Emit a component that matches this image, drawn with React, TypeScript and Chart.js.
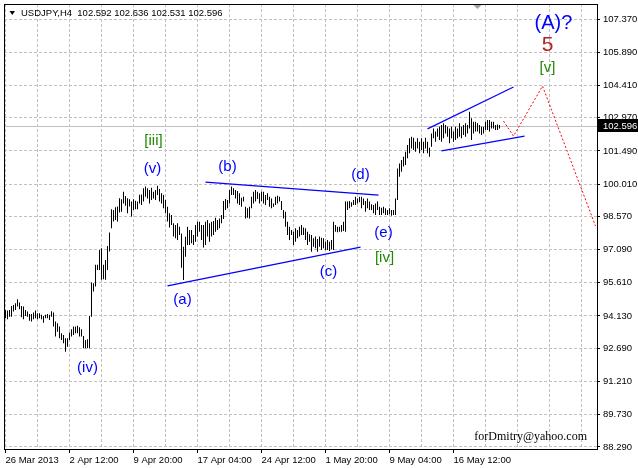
import React, { useEffect, useRef } from 'react';
import { Chart, registerables } from 'chart.js';

Chart.register(...registerables);

const chartTitle = 'USDJPY,H4  102.592 102.636 102.531 102.596';
const lastPrice = 102.596;
const watermark = 'forDmitry@yahoo.com';

// H4 bars: low / high per bar (bar index = position in array)
const barLow = [
  94.03, 93.98, 94.10, 94.10, 94.33, 94.40, 94.55, 94.43, 94.07, 93.98,
  94.13, 94.10, 93.92, 93.88, 93.98, 94.03, 93.98, 94.03, 93.98, 93.83,
  94.03, 94.03, 93.95, 94.10, 93.66, 93.21, 93.43, 93.14, 93.06, 92.91,
  92.54, 92.76, 93.06, 93.21, 93.28, 93.36, 93.36, 93.21, 93.21, 92.69,
  92.69, 92.69, 92.69, 94.10, 95.22, 95.44, 96.18, 96.18, 95.74, 95.77,
  95.74, 96.18, 97.00, 98.04, 98.34, 98.41, 98.34, 98.74, 98.78, 99.15,
  99.04, 98.71, 99.01, 98.56, 98.86, 98.89, 98.89, 99.15,
  99.08, 99.23, 99.45, 99.37, 99.15, 99.30, 99.37, 99.30, 99.52, 99.23,
  99.15, 98.93, 98.71, 98.34, 98.07, 98.19, 97.67, 97.59, 97.52, 97.74,
  96.28, 95.73, 96.77, 97.29, 97.29, 97.37, 97.29, 97.44, 97.67, 97.89,
  97.52, 97.18, 97.29, 97.67, 97.44, 97.67, 97.74, 97.89, 97.96, 98.04,
  98.26, 98.45, 98.85, 98.93, 99.15, 99.52, 99.52, 99.37, 99.15, 99.08,
  99.00, 99.23, 98.48, 98.51, 98.48, 98.93, 99.15, 99.23, 99.34, 99.15,
  99.26, 99.15, 99.08, 99.30, 99.00, 98.93, 99.00,
  99.08, 99.15, 99.23, 98.85, 98.48, 98.11, 97.74, 97.52, 97.74, 97.29,
  97.44, 97.59, 97.67, 97.74, 97.74, 97.52, 97.29, 97.44, 96.99, 97.22,
  97.15, 96.99, 97.22, 97.07, 97.15, 97.07, 97.07, 97.03, 97.11, 97.07,
  97.89, 97.86, 97.89, 97.89, 97.92, 97.89, 98.85, 98.93, 99.00, 99.08,
  99.08, 99.15, 99.20, 98.93, 99.08, 98.78, 98.93, 98.85, 98.85, 98.71,
  98.63, 98.85, 98.63, 98.63, 98.71, 98.63, 98.63, 98.66, 98.60, 98.63,
  98.63, 99.30, 100.34, 100.56, 100.79, 100.86, 101.16, 101.38,
  101.60, 101.53, 101.45, 101.60, 101.38, 101.53, 101.38, 101.60, 101.38, 101.23,
  101.68, 102.05, 101.90, 102.12, 101.97, 101.90, 102.05, 102.27, 102.12, 101.83,
  102.05, 101.90, 101.97, 102.05, 102.12, 102.05, 102.20, 102.12, 102.27, 102.49,
  101.97, 102.27, 102.35, 102.35, 102.27, 102.20, 102.27, 102.42, 102.42, 102.35,
  102.49, 102.49, 102.42, 102.42, 102.49,
];

const barHigh = [
  94.40, 94.37, 94.40, 94.58, 94.62, 94.70, 94.87, 94.73, 94.58, 94.55,
  94.40, 94.33, 94.22, 94.22, 94.28, 94.37, 94.25, 94.25, 94.18, 94.13,
  94.18, 94.22, 94.18, 94.34, 94.28, 93.88, 93.80, 93.66, 93.36, 93.28,
  93.14, 93.14, 93.39, 93.54, 93.66, 93.66, 93.69, 93.63, 93.54, 93.24,
  93.06, 93.09, 94.13, 95.62, 95.59, 96.41, 96.41, 97.07, 97.15, 96.41,
  96.63, 97.25, 97.85, 98.89, 98.86, 98.98, 99.01, 99.38, 99.33, 99.67,
  99.48, 99.38, 99.33, 99.23, 99.33, 99.27, 99.23, 99.53,
  99.55, 99.82, 99.90, 99.82, 99.75, 99.85, 99.67, 99.75, 99.94, 99.79,
  99.60, 99.52, 99.30, 99.00, 98.71, 98.63, 98.26, 98.19, 98.26, 98.11,
  97.81, 97.22, 97.66, 98.11, 97.96, 97.96, 97.74, 98.19, 98.33, 98.33,
  98.19, 98.19, 98.33, 98.41, 98.26, 98.33, 98.36, 98.51, 98.41, 98.48,
  98.63, 99.26, 99.35, 99.30, 99.75, 99.90, 99.82, 99.75, 99.70, 99.60,
  99.40, 99.45, 99.00, 98.93, 99.00, 99.45, 99.67, 99.75, 99.67, 99.60,
  99.67, 99.67, 99.52, 99.60, 99.45, 99.37, 99.15,
  99.45, 99.49, 99.45, 99.26, 98.85, 98.78, 98.33, 98.11, 97.96, 97.89,
  98.04, 97.96, 98.11, 98.19, 98.07, 98.04, 97.89, 97.77, 97.74, 97.59,
  97.67, 97.56, 97.67, 97.62, 97.59, 97.44, 97.52, 97.44, 97.52, 98.33,
  98.19, 98.11, 98.11, 98.19, 98.33, 99.23, 99.23, 99.26, 99.20, 99.30,
  99.45, 99.37, 99.45, 99.45, 99.37, 99.26, 99.37, 99.23, 99.11, 99.08,
  99.15, 99.23, 99.00, 98.96, 99.00, 98.93, 98.85, 98.93, 98.85, 98.85,
  99.37, 100.71, 100.93, 101.08, 101.23, 101.45, 101.75, 102.05,
  102.12, 102.08, 101.90, 102.05, 101.90, 102.05, 101.90, 102.08, 101.90, 101.63,
  102.27, 102.49, 102.35, 102.49, 102.57, 102.64, 102.72, 102.64, 102.57, 102.49,
  102.57, 102.35, 102.57, 102.49, 102.72, 102.57, 102.64, 102.72, 102.64, 103.24,
  102.94, 102.79, 102.79, 102.72, 102.64, 102.57, 102.57, 102.79, 102.87, 102.87,
  102.79, 102.79, 102.64, 102.67, 102.64,
];

const xTickLabels = [
  '26 Mar 2013', '2 Apr 12:00', '9 Apr 20:00', '17 Apr 04:00',
  '24 Apr 12:00', '1 May 20:00', '9 May 04:00', '16 May 12:00',
];
const barsPerLabel = 32;
const barsPerGrid = 16;

const yTickValues = [
  107.37, 105.89, 104.41, 102.97, 101.49, 100.01, 98.57,
  97.09, 95.61, 94.13, 92.69, 91.21, 89.73, 88.29,
];

// Trend lines (bar index, price)
const lineBD = [{ x: 100, y: 100.10 }, { x: 186.5, y: 99.52 }];
const lineAC = [{ x: 81, y: 95.47 }, { x: 177.5, y: 97.20 }];
const wedgeTop = [{ x: 211, y: 102.47 }, { x: 254, y: 104.34 }];
const wedgeBottom = [{ x: 218, y: 101.49 }, { x: 259.5, y: 102.15 }];
const projection = [
  { x: 249, y: 102.82 }, { x: 254, y: 102.15 },
  { x: 268.5, y: 104.38 }, { x: 295, y: 98.14 },
];

const BLUE = '#0000ff';
const GREEN = '#1f8a00';
const BROWN = '#b22222';

const waveLabels = [
  { text: '[iii]', x: 74, y: 101.93, color: GREEN, size: 15 },
  { text: '(v)', x: 73.5, y: 100.68, color: BLUE, size: 15 },
  { text: '(b)', x: 111, y: 100.77, color: BLUE, size: 15 },
  { text: '(d)', x: 177.5, y: 100.42, color: BLUE, size: 15 },
  { text: '(e)', x: 189, y: 97.83, color: BLUE, size: 15 },
  { text: '[iv]', x: 189.5, y: 96.71, color: GREEN, size: 15 },
  { text: '(c)', x: 161.5, y: 96.09, color: BLUE, size: 15 },
  { text: '(a)', x: 88.5, y: 94.84, color: BLUE, size: 15 },
  { text: '(iv)', x: 41, y: 91.81, color: BLUE, size: 15 },
  { text: '(A)?', x: 274, y: 107.19, color: BLUE, size: 20 },
  { text: '5', x: 271, y: 106.21, color: BROWN, size: 21 },
  { text: '[v]', x: 271, y: 105.19, color: GREEN, size: 15 },
];

const shiftMarkerBar = 236;

const FONT = 'Liberation Sans';

const overlayPlugin = {
  id: 'overlay',
  beforeDatasetsDraw(chart: any) {
    const { ctx, chartArea: a, scales } = chart;
    const py = Math.round(scales.y.getPixelForValue(lastPrice)) + 0.5;
    ctx.save();
    ctx.strokeStyle = '#c0c0c0';
    ctx.lineWidth = 1;
    ctx.beginPath();
    ctx.moveTo(a.left, py);
    ctx.lineTo(a.right, py);
    ctx.stroke();
    ctx.restore();
  },
  afterDatasetsDraw(chart: any) {
    const { ctx, scales } = chart;
    ctx.save();
    ctx.textAlign = 'center';
    ctx.textBaseline = 'middle';
    for (const l of waveLabels) {
      ctx.font = `${l.size}px "${FONT}"`;
      ctx.fillStyle = l.color;
      ctx.fillText(l.text, scales.x.getPixelForValue(l.x), scales.y.getPixelForValue(l.y));
    }
    ctx.restore();
  },
  afterDraw(chart: any) {
    const { ctx, chartArea: a, scales, width } = chart;
    ctx.save();
    // frame
    ctx.strokeStyle = '#000';
    ctx.lineWidth = 1;
    ctx.strokeRect(a.left + 0.5, a.top + 0.5, a.right - a.left, a.bottom - a.top);
    // title
    ctx.fillStyle = '#000';
    ctx.beginPath();
    ctx.moveTo(a.left + 5.5, a.top + 7);
    ctx.lineTo(a.left + 11, a.top + 7);
    ctx.lineTo(a.left + 8.25, a.top + 11);
    ctx.closePath();
    ctx.fill();
    ctx.font = `9.5px "${FONT}"`;
    ctx.textAlign = 'left';
    ctx.textBaseline = 'middle';
    ctx.fillText(chartTitle, a.left + 17, a.top + 9);
    // chart shift marker
    const sx = scales.x.getPixelForValue(shiftMarkerBar);
    ctx.fillStyle = '#a0a0a0';
    ctx.beginPath();
    ctx.moveTo(sx - 4, a.top + 1);
    ctx.lineTo(sx + 4, a.top + 1);
    ctx.lineTo(sx, a.top + 5);
    ctx.closePath();
    ctx.fill();
    // watermark
    ctx.font = `12px "Liberation Serif"`;
    ctx.fillStyle = '#000';
    ctx.textAlign = 'right';
    ctx.textBaseline = 'alphabetic';
    ctx.fillText(watermark, a.right - 10, a.bottom - 9);
    // price box
    const py = Math.round(scales.y.getPixelForValue(lastPrice));
    ctx.fillStyle = '#000';
    ctx.fillRect(a.right + 1, py - 7, width - a.right - 1, 13);
    ctx.fillStyle = '#fff';
    ctx.font = `9.5px "${FONT}"`;
    ctx.textAlign = 'left';
    ctx.textBaseline = 'middle';
    ctx.fillText(lastPrice.toFixed(3), a.right + 6, py);
    ctx.restore();
  },
};

function zeroPadding(s: any) {
  s.paddingLeft = 0;
  s.paddingRight = 0;
  s.paddingTop = 0;
  s.paddingBottom = 0;
}

export default function App() {
  const ref = useRef<HTMLCanvasElement>(null);

  useEffect(() => {
    document.body.style.margin = '0';
    const canvas = ref.current!;
    const trend = (data: any[], color: string, width: number, dash: number[] = []) => ({
      type: 'line' as const,
      data,
      borderColor: color,
      borderWidth: width,
      borderDash: dash,
      pointRadius: 0,
      fill: false,
      tension: 0,
    });
    const chart = new Chart(canvas, {
      type: 'bar',
      data: {
        datasets: [
          {
            type: 'bar',
            data: barLow.map((lo, i) => ({ x: i, y: [lo, barHigh[i]] })) as any,
            backgroundColor: '#000',
            borderWidth: 0,
            barThickness: 1,
            inflateAmount: 0,
            grouped: false,
          } as any,
          trend(lineBD, BLUE, 1.2),
          trend(lineAC, BLUE, 1.2),
          trend(wedgeTop, BLUE, 1.2),
          trend(wedgeBottom, BLUE, 1.2),
          trend(projection, '#ff0000', 1, [2, 2]),
        ],
      },
      options: {
        responsive: false,
        animation: false,
        devicePixelRatio: 1,
        layout: { padding: { left: 4, top: 4, right: 0, bottom: 0 } },
        plugins: {
          legend: { display: false },
          tooltip: { enabled: false },
          title: { display: false },
        },
        scales: {
          x: {
            type: 'linear',
            min: -0.75,
            max: 295.75,
            offset: false,
            afterBuildTicks: (s: any) => {
              const t = [];
              for (let v = 0; v <= s.max; v += barsPerGrid) t.push({ value: v });
              s.ticks = t;
            },
            afterFit: (s: any) => {
              s.height = 19;
              zeroPadding(s);
            },
            ticks: {
              autoSkip: false,
              maxRotation: 0,
              minRotation: 0,
              align: 'start',
              padding: 2,
              color: '#000',
              font: { family: FONT, size: 9.5 },
              callback: (v: any) => {
                const n = Math.round(Number(v));
                const k = n / barsPerLabel;
                return Number.isInteger(k) && k < xTickLabels.length ? xTickLabels[k] : '';
              },
            },
            grid: {
              color: '#c0c0c0',
              lineWidth: 1,
              offset: false,
              tickLength: 4,
              tickColor: (c: any) => {
                const v = c.tick ? Math.round(c.tick.value) : -1;
                return v >= 0 && v % barsPerLabel === 0 && v / barsPerLabel < xTickLabels.length
                  ? '#000'
                  : 'rgba(0,0,0,0)';
              },
            },
            border: { display: false, dash: [3, 2] },
          },
          y: {
            type: 'linear',
            position: 'right',
            min: 88.199,
            max: 108.039,
            afterBuildTicks: (s: any) => {
              s.ticks = yTickValues.map((v) => ({ value: v }));
            },
            afterFit: (s: any) => {
              s.width = 41;
              zeroPadding(s);
            },
            ticks: {
              padding: 3,
              color: '#000',
              font: { family: FONT, size: 9.5 },
              callback: (v: any) => Number(v).toFixed(3),
            },
            grid: {
              color: '#c0c0c0',
              lineWidth: 1,
              tickLength: 3,
              tickColor: '#000',
            },
            border: { display: false, dash: [3, 2] },
          },
        },
      } as any,
      plugins: [overlayPlugin],
    });
    return () => chart.destroy();
  }, []);

  return (
    <canvas
      ref={ref}
      width={638}
      height={468}
      style={{ display: 'block', width: 638, height: 468 }}
    />
  );
}
